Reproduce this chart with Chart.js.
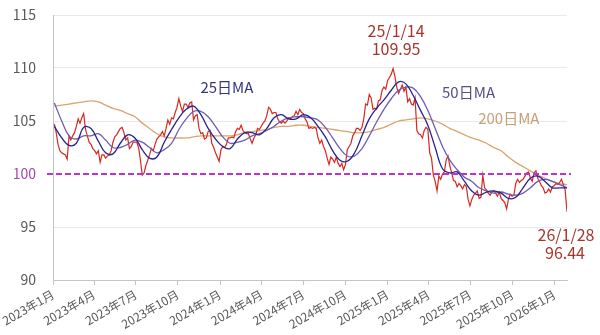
<!DOCTYPE html>
<html lang="ja">
<head>
<meta charset="utf-8">
<title>ドル指数と移動平均</title>
<script src="https://cdn.jsdelivr.net/npm/chart.js@4.4.1/dist/chart.umd.min.js"></script>
<style>
    html, body { margin: 0; padding: 0; background: #ffffff; }
    #chart-wrap { width: 600px; height: 335px; }
</style>
</head>
<body>
<div id="chart-wrap"><canvas id="dxy-chart" width="600" height="335"></canvas></div>
<script>
// Closing level sampled every 4 days, day 0 = 2023-01-01
const dxyFirstDay = 3;
const dxyStepDays = 4;

const dxy2023 = [
    104.7, 103.9, 102.8, 102.2, 102.0, 101.9, 101.8, 101.4,
    103.6, 103.2, 103.6, 103.9, 104.5, 105.2,
    104.8, 105.3, 105.7, 104.2, 103.6, 103.0, 102.8, 102.4,
    102.2, 101.9, 102.2, 101.1, 101.8, 101.8, 101.5, 101.7,
    101.8, 102.2, 103.0, 103.5, 103.7, 104.0, 104.3, 104.4,
    103.9, 103.2, 103.4, 102.4, 102.6, 103.0, 103.0,
    103.0, 102.5, 101.3, 99.9, 100.1, 100.8, 101.3, 101.8,
    102.4, 102.2, 102.8, 103.3, 103.5, 103.7, 104.0, 103.6,
    104.3, 105.1, 104.7, 105.3, 105.2, 105.8, 106.3,
    107.1, 106.4, 105.9, 106.6, 106.6, 106.3, 106.7, 106.8,
    105.1, 105.5, 105.6, 104.3, 103.8, 103.9, 103.3,
    103.4, 104.0, 104.1, 102.9, 102.5, 102.0, 101.6, 101.2
];
const dxy2024 = [
    102.3, 102.6, 102.5, 102.8, 103.4, 103.4, 103.5, 103.4,
    104.0, 104.3, 104.2, 104.6, 104.1, 103.9, 103.8,
    103.8, 103.3, 102.9, 103.4, 103.7, 104.3, 104.2, 104.5,
    104.8, 105.0, 105.5, 106.3, 106.1, 105.7, 105.8, 105.8,
    105.2, 104.9, 104.8, 105.0, 104.8, 105.0, 105.3, 105.2,
    105.4, 105.5, 105.9, 105.6, 106.1, 105.8, 105.7,
    105.2, 104.9, 104.3, 104.4, 104.3, 104.4, 104.3, 103.4,
    102.9, 103.2, 102.6, 102.2, 101.5, 100.9, 101.6,
    101.4, 101.1, 101.6, 101.0, 100.7, 101.0, 100.4, 100.9,
    102.3, 102.6, 102.9, 103.6, 103.9, 104.3, 104.3, 104.1,
    104.4, 105.2, 106.6, 106.5, 107.5, 107.2, 106.1,
    106.2, 106.1, 106.9, 107.0, 107.9, 108.2, 108.0, 108.8
];
const dxy2025 = [
    109.1, 109.4, 109.95, 109.2, 108.2, 107.6, 108.0, 108.4,
    107.8, 108.2, 106.8, 107.1, 106.6, 106.5, 107.2,
    104.1, 103.8, 103.7, 103.4, 104.1, 104.4, 104.2, 102.0,
    101.5, 99.9, 99.3, 98.4, 99.8, 99.5, 100.0,
    100.2, 101.3, 101.7, 100.8, 100.1, 99.4, 99.3, 98.8,
    99.1, 98.9, 98.6, 99.0, 98.8, 97.6, 97.0,
    97.6, 98.0, 98.2, 98.4, 97.7, 97.8, 99.9, 98.7,
    98.5, 98.2, 98.0, 98.3, 98.4, 98.2, 97.9, 98.3,
    97.7, 97.5, 97.3, 96.7, 97.6, 98.1, 97.9, 98.0,
    99.1, 99.5, 99.2, 99.4, 99.5, 99.8, 100.1, 100.2,
    99.6, 99.3, 100.1, 100.3, 99.6, 99.3, 98.9,
    98.7, 98.2, 98.3, 98.6, 98.3, 98.8, 98.9, 99.1
];
const dxy2026 = [99.0, 99.2, 99.5, 99.0, 98.5, 96.44];

// Moving averages sampled every 16 days
const maFirstDay = 3;
const maStepDays = 16;

const ma25Values = [
    104.5, 103.4, 102.7, 102.9, 104.4, 104.3, 103.1, 102.0, 101.9, 102.9,
    103.7, 103.4, 102.3, 101.5, 101.6, 103.0, 104.2, 105.3, 106.1, 106.4,
    105.6, 104.3, 103.3, 102.6, 102.4, 103.3, 103.9, 103.9, 103.7, 104.3,
    105.3, 105.6, 105.2, 105.2, 105.6, 105.3, 104.5, 103.5, 102.2, 101.3,
    101.2, 102.0, 103.6, 105.2, 106.2, 107.0, 107.9, 108.7, 108.5, 107.4,
    106.0, 104.6, 102.5, 100.5, 100.1, 100.2, 99.3, 98.4, 98.0, 98.3,
    98.4, 98.2, 97.7, 97.8, 98.7, 99.6, 99.8, 99.3, 98.7, 98.7,
    98.7
];
const ma50Values = [
    106.7, 105.0, 103.6, 103.3, 103.6, 103.6, 103.8, 103.2, 102.5, 102.5,
    102.8, 103.2, 103.0, 102.5, 102.0, 102.3, 102.9, 104.2, 105.2, 105.9,
    105.9, 105.4, 104.5, 103.5, 102.9, 103.0, 103.2, 103.6, 103.8, 104.1,
    104.5, 105.0, 105.3, 105.4, 105.4, 105.3, 105.1, 104.4, 103.4, 102.4,
    101.7, 101.7, 102.4, 103.6, 104.9, 106.1, 107.1, 107.9, 108.2, 108.1,
    107.3, 106.0, 104.3, 102.6, 101.3, 100.4, 99.7, 99.3, 98.7, 98.4,
    98.2, 98.3, 98.1, 98.0, 98.2, 98.7, 99.3, 99.5, 99.3, 99.0,
    98.7
];
const ma200Values = [
    106.4, 106.5, 106.6, 106.7, 106.8, 106.9, 106.8, 106.5, 106.2, 106.0,
    105.7, 105.4, 104.8, 104.3, 103.8, 103.5, 103.4, 103.4, 103.4, 103.5,
    103.6, 103.6, 103.6, 103.6, 103.6, 103.7, 103.9, 104.0, 104.1, 104.2,
    104.4, 104.5, 104.5, 104.6, 104.6, 104.5, 104.4, 104.3, 104.2, 104.1,
    104.0, 103.9, 103.9, 104.0, 104.2, 104.4, 104.7, 105.0, 105.1, 105.2,
    105.3, 105.2, 105.0, 104.7, 104.3, 104.0, 103.7, 103.4, 103.2, 102.9,
    102.5, 102.2, 101.6, 101.1, 100.7, 100.3, 99.9, 99.6, 99.3, 99.1,
    99.0
];

// Quarter ticks on the date axis
const tickDates = [
    '2023-01-01', '2023-04-01', '2023-07-01', '2023-10-01',
    '2024-01-01', '2024-04-01', '2024-07-01', '2024-10-01',
    '2025-01-01', '2025-04-01', '2025-07-01', '2025-10-01',
    '2026-01-01'
];
const tickLabels = [
    '2023年1月', '2023年4月', '2023年7月', '2023年10月',
    '2024年1月', '2024年4月', '2024年7月', '2024年10月',
    '2025年1月', '2025年4月', '2025年7月', '2025年10月',
    '2026年1月'
];

const yTicks = [90, 95, 100, 105, 110, 115];
const parityLevel = 100;

const peakDateText = '25/1/14';
const lastDateText = '26/1/28';

const FONT = "'Noto Sans CJK JP', 'Noto Sans', sans-serif";

// Day number counted from 2023-01-01
function dayOf(iso) {
    const p = iso.split('-');
    return Math.round((Date.UTC(+p[0], +p[1] - 1, +p[2]) - Date.UTC(2023, 0, 1)) / 86400000);
}

function toPoints(values, firstDay, step) {
    return values.map(function(v, i) {
        return { x: firstDay + i * step, y: v };
    });
}

const dxyValues = dxy2023.concat(dxy2024, dxy2025, dxy2026);
const dxyPoints = toPoints(dxyValues, dxyFirstDay, dxyStepDays);
const tickDays = tickDates.map(dayOf);

// Highest close and the latest close get a label
const peakIndex = dxyValues.indexOf(Math.max.apply(null, dxyValues));
const peakPoint = dxyPoints[peakIndex];
const lastPoint = dxyPoints[dxyPoints.length - 1];

const notes = [
    { text: peakDateText, x: peakPoint.x, y: peakPoint.y, dx: 3, dy: -38, color: '#a8352c', size: 16, align: 'center' },
    { text: peakPoint.y.toFixed(2), x: peakPoint.x, y: peakPoint.y, dx: 3, dy: -20, color: '#a8352c', size: 16, align: 'center' },
    { text: lastDateText, x: lastPoint.x, y: lastPoint.y, dx: -1, dy: 23, color: '#a8352c', size: 16, align: 'center' },
    { text: lastPoint.y.toFixed(2), x: lastPoint.x, y: lastPoint.y, dx: -2, dy: 41, color: '#a8352c', size: 16, align: 'center' },
    { text: '25日MA', x: 322, y: 108.2, dx: 0, dy: 0, color: '#35357f', size: 15, align: 'left' },
    { text: '50日MA', x: 850, y: 107.7, dx: 0, dy: 0, color: '#5a4c86', size: 15, align: 'left' },
    { text: '200日MA', x: 929, y: 105.25, dx: 0, dy: 0, color: '#c8a078', size: 15, align: 'left' }
];

// Dashed parity line and text labels
const overlayPlugin = {
    id: 'overlay',
    afterDatasetsDraw(chart) {
        const ctx = chart.ctx;
        const xs = chart.scales.x;
        const ys = chart.scales.y;
        const area = chart.chartArea;

        ctx.save();
        const y100 = Math.round(ys.getPixelForValue(parityLevel));
        ctx.strokeStyle = '#bb36c8';
        ctx.lineWidth = 2;
        ctx.setLineDash([6, 3]);
        ctx.beginPath();
        ctx.moveTo(area.left - 6, y100);
        ctx.lineTo(area.right + 4, y100);
        ctx.stroke();
        ctx.restore();

        ctx.save();
        ctx.textBaseline = 'middle';
        notes.forEach(function(n) {
            ctx.font = n.size + 'px ' + FONT;
            ctx.fillStyle = n.color;
            ctx.textAlign = n.align;
            ctx.fillText(n.text, xs.getPixelForValue(n.x) + n.dx, ys.getPixelForValue(n.y) + n.dy);
        });
        ctx.restore();
    }
};

function lineSet(label, points, color, width, order, tension) {
    return {
        label: label,
        data: points,
        borderColor: color,
        borderWidth: width,
        pointRadius: 0,
        tension: tension,
        fill: false,
        order: order
    };
}

const ctx = document.getElementById('dxy-chart').getContext('2d');

new Chart(ctx, {
    type: 'line',
    data: {
        datasets: [
            lineSet('200日MA', toPoints(ma200Values, maFirstDay, maStepDays), '#dba46c', 1.3, 4, 0.4),
            lineSet('ドル指数', dxyPoints, '#d8281e', 1.2, 3, 0),
            lineSet('50日MA', toPoints(ma50Values, maFirstDay, maStepDays), '#6f5cb0', 1.3, 2, 0.4),
            lineSet('25日MA', toPoints(ma25Values, maFirstDay, maStepDays), '#232394', 1.3, 1, 0.4)
        ]
    },
    options: {
        responsive: false,
        animation: false,
        devicePixelRatio: 1,
        layout: {
            padding: { top: 15, right: 33, left: 0, bottom: 0 }
        },
        plugins: {
            legend: { display: false },
            tooltip: { enabled: false }
        },
        scales: {
            x: {
                type: 'linear',
                min: 0,
                max: lastPoint.x,
                afterBuildTicks: function(scale) {
                    scale.ticks = tickDays.map(function(d) { return { value: d }; });
                },
                afterFit: function(scale) {
                    scale.height = 55;
                },
                border: { display: true, color: '#c4c4c4', width: 1 },
                grid: {
                    drawOnChartArea: false,
                    drawTicks: true,
                    tickLength: 5,
                    color: '#c4c4c4'
                },
                ticks: {
                    autoSkip: false,
                    minRotation: 30,
                    maxRotation: 30,
                    padding: 2,
                    color: '#595959',
                    font: { family: FONT, size: 12 },
                    callback: function(value) {
                        const i = tickDays.indexOf(value);
                        return i >= 0 ? tickLabels[i] : '';
                    }
                }
            },
            y: {
                min: yTicks[0],
                max: yTicks[yTicks.length - 1],
                afterBuildTicks: function(scale) {
                    scale.ticks = yTicks.map(function(v) { return { value: v }; });
                },
                afterFit: function(scale) {
                    scale.width = 53;
                },
                border: { display: true, color: '#c4c4c4', width: 1 },
                grid: {
                    // invisible tick marks keep the labels clear of the axis
                    drawTicks: true,
                    tickLength: 17,
                    tickColor: 'rgba(0,0,0,0)',
                    color: function(c) {
                        return c.tick && c.tick.value === parityLevel ? 'rgba(0,0,0,0)' : '#e9e9e9';
                    }
                },
                ticks: {
                    padding: 0,
                    color: function(c) {
                        return c.tick && c.tick.value === parityLevel ? '#a545b0' : '#595959';
                    },
                    font: { family: FONT, size: 14 }
                }
            }
        }
    },
    plugins: [overlayPlugin]
});
</script>
</body>
</html>
